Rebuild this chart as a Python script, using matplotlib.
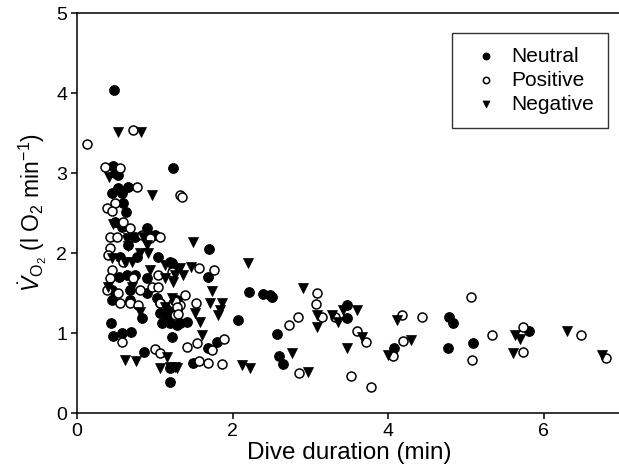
import numpy as np
import matplotlib
matplotlib.use('Agg')
import matplotlib.pyplot as plt

plt.rcParams['font.family'] = ['Liberation Sans', 'DejaVu Sans']
plt.rcParams['mathtext.fontset'] = 'custom'
plt.rcParams['mathtext.rm'] = 'Liberation Sans'
plt.rcParams['mathtext.it'] = 'Liberation Sans:italic'

# dive duration (min), VO2 (l O2 min-1)
neutral_x = [0.48, 0.46, 0.53, 1.23, 0.45, 0.53, 0.66, 0.49, 0.59, 0.63, 0.49, 0.58,
             0.90, 0.74, 0.91, 1.00, 0.58, 0.66, 0.55, 0.77, 1.04, 1.20, 0.54, 0.64,
             0.75, 0.90, 0.45, 0.68, 0.90, 0.68, 0.45, 1.03, 1.29, 1.07, 1.20, 0.84,
             1.07, 1.16, 1.29, 0.44, 1.09, 1.20, 1.29, 0.46, 0.58, 0.69, 1.22, 0.86,
             1.20, 1.20, 1.70, 1.22, 1.68, 1.23, 2.21, 2.39, 2.48, 2.50, 1.32, 1.41,
             2.07, 1.68, 1.80, 2.57, 2.60, 2.65, 1.49, 3.47, 3.47, 4.07, 4.78, 4.83,
             4.77, 5.09, 5.81]
neutral_y = [4.04, 3.09, 2.97, 3.06, 2.75, 2.81, 2.83, 3.00, 2.63, 2.51, 2.39, 2.33,
             2.31, 2.20, 2.23, 2.23, 2.75, 2.10, 1.95, 1.95, 1.95, 1.89, 1.70, 1.73,
             1.73, 1.69, 1.54, 1.54, 1.50, 1.41, 1.41, 1.44, 1.41, 1.38, 1.31, 1.19,
             1.25, 1.23, 1.29, 1.13, 1.13, 1.13, 1.10, 0.96, 1.00, 1.01, 0.95, 0.76,
             0.56, 0.39, 2.05, 1.88, 1.70, 1.79, 1.51, 1.49, 1.47, 1.45, 1.13, 1.14,
             1.16, 0.81, 0.89, 0.99, 0.71, 0.61, 0.63, 1.35, 1.19, 0.81, 1.20, 1.12,
             0.81, 0.87, 1.03]

positive_x = [0.72, 0.13, 0.36, 0.55, 0.77, 1.32, 0.49, 0.39, 0.45, 0.59, 0.68, 0.84,
              0.42, 0.51, 0.94, 1.07, 0.42, 0.40, 0.59, 0.45, 0.72, 1.04, 1.22, 0.42,
              0.39, 0.53, 0.81, 0.96, 1.04, 0.55, 1.07, 1.32, 0.68, 0.78, 1.23, 1.26,
              0.58, 1.00, 1.07, 1.35, 1.57, 1.76, 1.39, 3.08, 3.07, 1.26, 1.29, 1.30,
              1.53, 2.84, 2.73, 1.54, 1.41, 1.74, 1.89, 1.57, 1.68, 1.86, 2.85, 3.15,
              3.32, 3.60, 3.71, 3.52, 3.78, 4.18, 4.43, 4.19, 4.06, 5.06, 5.08, 5.33,
              5.73, 5.73, 6.48, 6.80]
positive_y = [3.54, 3.36, 3.07, 3.06, 2.83, 2.73, 2.62, 2.56, 2.53, 2.39, 2.31, 2.23,
              2.20, 2.20, 2.19, 2.20, 2.06, 1.98, 1.89, 1.79, 1.69, 1.73, 1.76, 1.69,
              1.54, 1.50, 1.54, 1.58, 1.58, 1.38, 1.38, 1.35, 1.38, 1.35, 1.38, 1.23,
              0.89, 0.80, 0.75, 2.70, 1.81, 1.79, 1.48, 1.50, 1.36, 1.40, 1.33, 1.24,
              1.38, 1.20, 1.10, 0.88, 0.83, 0.79, 0.93, 0.65, 0.63, 0.61, 0.50, 1.20,
              1.20, 1.03, 0.89, 0.46, 0.33, 1.23, 1.20, 0.90, 0.71, 1.45, 0.66, 0.98,
              1.07, 0.76, 0.97, 0.69]

negative_x = [0.53, 0.82, 0.41, 0.96, 0.46, 0.66, 0.66, 0.85, 0.64, 0.90, 0.45, 0.71,
              0.81, 0.91, 1.13, 0.62, 0.94, 1.13, 1.23, 0.40, 0.71, 1.13, 1.22, 0.81,
              1.16, 0.62, 0.76, 1.07, 1.29, 1.49, 2.20, 1.32, 1.47, 1.26, 1.36, 1.73,
              2.90, 1.71, 1.86, 1.84, 1.81, 1.52, 1.58, 3.08, 3.08, 1.61, 2.76, 2.97,
              2.12, 2.22, 1.26, 1.20, 3.28, 3.36, 3.42, 3.60, 3.66, 3.47, 4.11, 4.29,
              4.00, 5.63, 5.70, 5.60, 6.30, 6.75]
negative_y = [3.51, 3.51, 2.95, 2.73, 2.36, 2.19, 2.09, 2.20, 2.16, 2.10, 1.94, 1.89,
              2.00, 2.00, 1.85, 1.89, 1.79, 1.69, 1.64, 1.58, 1.58, 1.33, 1.44, 1.26,
              0.70, 0.66, 0.65, 0.56, 0.56, 2.14, 1.88, 1.81, 1.83, 1.73, 1.73, 1.53,
              1.56, 1.38, 1.38, 1.29, 1.23, 1.25, 1.14, 1.23, 1.08, 0.98, 0.75, 0.51,
              0.60, 0.56, 0.58, 0.58, 1.23, 1.14, 1.29, 1.29, 0.95, 0.81, 1.16, 0.91,
              0.73, 0.97, 0.93, 0.75, 1.02, 0.72]

fig = plt.figure(figsize=(6.19, 4.72), dpi=100)
ax = fig.add_axes([77 / 619, 59 / 472, 544.6 / 619, 400 / 472])

ax.scatter(neutral_x, neutral_y, s=48, marker='o', facecolor='black', edgecolor='black',
           linewidth=0.8, label='Neutral', zorder=3)
ax.scatter(positive_x, positive_y, s=42, marker='o', facecolor='white', edgecolor='black',
           linewidth=1.1, label='Positive', zorder=3)
ax.scatter(negative_x, negative_y, s=52, marker='v', facecolor='black', edgecolor='black',
           linewidth=0.5, label='Negative', zorder=3)

ax.set_xlim(0, 7)
ax.set_ylim(0, 5)
ax.set_xticks([0, 2, 4, 6])
ax.set_yticks([0, 1, 2, 3, 4, 5])
ax.spines['right'].set_visible(False)
for sp in ['left', 'bottom', 'top']:
    ax.spines[sp].set_linewidth(1.1)
ax.tick_params(direction='out', length=4, width=1.1, labelsize=14, pad=3, colors='black')
ax.tick_params(axis='x', top=False)

ax.set_xlabel('Dive duration (min)', fontsize=17.5, labelpad=2)
ax.set_ylabel(r'$\dot{V}_{\mathrm{O_2}}$ (l O$_2$ min$^{-1}$)', fontsize=16.5, labelpad=5)

leg = ax.legend(loc='upper right', bbox_to_anchor=(608 / 619, 1 - 33 / 472),
                bbox_transform=fig.transFigure, borderaxespad=0, fontsize=15,
                markerscale=0.7, frameon=True, fancybox=False, edgecolor='black',
                handletextpad=0.3, labelspacing=0.25, borderpad=0.65, handlelength=1.9)
leg.get_frame().set_linewidth(1.0)

fig.savefig('out.png', dpi=100)
